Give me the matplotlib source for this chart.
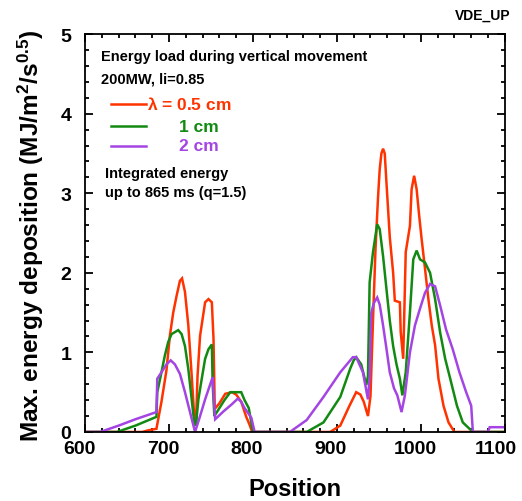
import matplotlib
matplotlib.use("Agg")
import matplotlib.pyplot as plt
from matplotlib.ticker import MultipleLocator
from matplotlib.transforms import ScaledTranslation

plt.rcParams["font.family"] = ["Liberation Sans", "DejaVu Sans"]
plt.rcParams["font.weight"] = "bold"
plt.rcParams["mathtext.fontset"] = "custom"
plt.rcParams["mathtext.rm"] = "Liberation Sans:bold"
plt.rcParams["mathtext.bf"] = "Liberation Sans:bold"
plt.rcParams["mathtext.it"] = "Liberation Sans:bold"

# Max. energy deposition vs. position, for three decay lengths
x_05 = [600, 668, 675, 685, 691, 697, 701, 705, 709, 713, 715.5, 719, 723, 727, 730, 732,
        734, 737, 740, 743, 747, 751, 753, 754.5, 760, 767, 775, 780, 786, 792, 796, 799,
        850, 892, 904, 915, 923, 928, 932, 937, 940, 943, 946, 949, 951, 953, 955, 957,
        959, 963, 967, 969, 975, 976, 979, 982, 987, 989, 992, 995, 998, 1001, 1005, 1009,
        1013, 1017, 1021, 1027, 1033, 1040, 1100]
y_05 = [0, 0, 0.02, 0.04, 0.38, 0.78, 1.21, 1.5, 1.71, 1.9, 1.93, 1.76, 1.34, 0.71, 0.2, 0.08,
        0.71, 1.21, 1.42, 1.63, 1.67, 1.63, 1.17, 0.29, 0.36, 0.48, 0.5, 0.47, 0.38, 0.19, 0.09, 0,
        0, 0, 0.08, 0.33, 0.5, 0.47, 0.38, 0.2, 0.45, 1.4, 2.3, 2.95, 3.3, 3.5, 3.56, 3.5,
        3.14, 2.45, 2.0, 1.65, 1.63, 1.26, 0.92, 2.26, 2.59, 3.05, 3.22, 3.05, 2.72, 2.42, 2.05, 1.67,
        1.34, 1.09, 0.67, 0.33, 0.12, 0, 0]

x_1 = [600, 638, 660, 685, 686, 691, 695, 699, 703, 711, 715, 719, 723, 727, 730, 732,
       735, 739, 743, 747, 751, 752, 754, 760, 766, 773, 780, 786, 790, 795, 798, 800,
       864, 884, 904, 910, 916, 920, 923, 929, 935, 937, 939, 943, 948, 951, 955, 959,
       963, 967, 971, 975, 978, 982, 987, 991, 995, 999, 1005, 1011, 1017, 1023, 1029, 1035,
       1043, 1050, 1058, 1062, 1100]
y_1 = [0, 0, 0.08, 0.19, 0.5, 0.75, 0.96, 1.13, 1.23, 1.28, 1.23, 1.08, 0.79, 0.41, 0.12, 0.08,
       0.41, 0.67, 0.92, 1.04, 1.1, 0.6, 0.2, 0.3, 0.4, 0.5, 0.5, 0.5, 0.4, 0.3, 0.12, 0,
       0, 0.12, 0.44, 0.62, 0.8, 0.9, 0.94, 0.85, 0.59, 0.7, 1.88, 2.26, 2.61, 2.55, 2.21, 1.8,
       1.4, 1.08, 0.85, 0.67, 0.46, 0.75, 1.5, 2.17, 2.28, 2.17, 2.13, 2.0, 1.67, 1.25, 0.92, 0.67,
       0.33, 0.12, 0.04, 0, 0]

x_2 = [600, 618, 640, 660, 685, 686, 691, 697, 702, 707, 713, 719, 725, 731,
       737, 743, 752, 753.5, 755, 765, 775, 782, 786, 790, 798, 802,
       844, 864, 884, 904, 919, 923, 931, 937, 939, 941, 944, 948, 951, 955, 959, 963,
       968, 972, 977, 981, 987, 993, 999, 1005, 1011, 1017, 1023, 1030, 1038, 1046, 1054, 1060,
       1062, 1080, 1082, 1100]
y_2 = [0, 0, 0.08, 0.16, 0.25, 0.67, 0.75, 0.85, 0.9, 0.85, 0.73, 0.5, 0.25, 0,
       0.2, 0.41, 0.69, 0.4, 0.16, 0.26, 0.35, 0.42, 0.38, 0.3, 0.18, 0,
       0, 0.15, 0.44, 0.75, 0.94, 0.94, 0.75, 0.41, 0.7, 1.5, 1.62, 1.69, 1.6, 1.34, 1.05, 0.75,
       0.55, 0.46, 0.25, 0.46, 1.0, 1.34, 1.55, 1.75, 1.86, 1.83, 1.59, 1.29, 1.04, 0.75, 0.5, 0.33,
       0, 0, 0.06, 0.06]

series = [
    (x_05, y_05, "#ff3300"),
    (x_1, y_1, "#128a12"),
    (x_2, y_2, "#a445e3"),
]

fig = plt.figure(figsize=(5.22, 5.02), dpi=100)
ax = fig.add_axes([0.163, 0.1375, 0.804, 0.7925])

for xs, ys, col in series:
    ax.plot(xs, ys, color=col, lw=1.8, solid_joinstyle="miter")

ax.set_xlim(600, 1100)
ax.set_ylim(0, 5)
ax.xaxis.set_major_locator(MultipleLocator(100))
ax.xaxis.set_minor_locator(MultipleLocator(20))
ax.yaxis.set_major_locator(MultipleLocator(1))
ax.yaxis.set_minor_locator(MultipleLocator(0.2))
ax.tick_params(which="both", direction="in", top=True, right=True, width=1.3)
ax.tick_params(which="major", length=5.5)
ax.tick_params(which="minor", length=3)
ax.tick_params(axis="x", which="major", pad=6, labelsize=14)
ax.tick_params(axis="y", which="major", pad=10, labelsize=14)
for sp in ax.spines.values():
    sp.set_linewidth(1.3)

fig.canvas.draw()
xlabels = ax.get_xticklabels()
for lbl in xlabels:
    lbl.set_fontweight("bold")
    shift = -0.09 if lbl.get_text() in ("1100", "1 100") else -0.06
    lbl.set_transform(lbl.get_transform() + ScaledTranslation(shift, 0, fig.dpi_scale_trans))
for lbl in ax.get_yticklabels():
    lbl.set_fontweight("bold")

ax.set_xlabel("Position", fontsize=17, fontweight="bold", labelpad=14)
fig.text(0.059, 0.53, r"Max. energy deposition (MJ/m$^{2}$/s$^{0.5}$)",
         rotation=90, ha="center", va="center", fontsize=17.6, fontweight="bold")

fig.text(0.978, 0.968, "VDE_UP", ha="right", va="center", fontsize=10, fontweight="bold")


def px(xp, yp):
    return xp / 522, 1 - yp / 502


txt = dict(fontsize=10.5, fontweight="bold", color="black", ha="left", va="baseline")
fig.text(*px(101, 61), "Energy load during vertical movement", **txt)
fig.text(*px(101, 84), "200MW, li=0.85", **txt)
fig.text(*px(105, 178), "Integrated energy", **txt)
fig.text(*px(105, 197), "up to 865 ms (q=1.5)", **txt)

legend_rows = [
    (105, r"$\lambda$ = 0.5 cm", 147, "#ff3300"),
    (127, "1 cm", 179, "#128a12"),
    (147, "2 cm", 179, "#a445e3"),
]
for yp, label, xt, col in legend_rows:
    x0, y0 = px(111, yp)
    x1, _ = px(146, yp)
    fig.add_artist(plt.Line2D([x0, x1], [y0, y0], color=col, lw=1.8,
                              transform=fig.transFigure))
    fig.text(*px(xt, yp), label, color=col, fontsize=12.5, fontweight="bold",
             ha="left", va="center")

fig.savefig("out.png", dpi=100)
